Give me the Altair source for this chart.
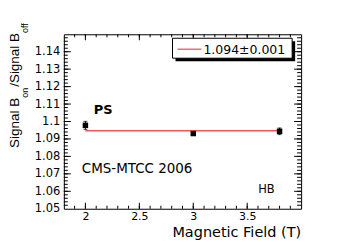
import altair as alt
import pandas as pd

# ---- data ----
field_T = [2.0, 3.0, 3.8]
ratio = [1.0978, 1.0931, 1.0944]
ratio_err = [0.0023, 0.0010, 0.0019]
fit_value = 1.0947
fit_range = [2.0, 3.8]
fit_label = "1.094\u00b10.001"

x_labels = [2.0, 2.5, 3.0, 3.5]
y_labels = [1.05, 1.06, 1.07, 1.08, 1.09, 1.10, 1.11, 1.12, 1.13, 1.14]
x_domain = [1.8, 4.0]
y_domain = [1.05, 1.15]

W, H = 238, 175
FONT = "DejaVu Sans"

pts = pd.DataFrame({"B": field_T, "r": ratio, "e": ratio_err})
pts["lo"] = pts["r"] - pts["e"]
pts["hi"] = pts["r"] + pts["e"]
fit = pd.DataFrame({"B": fit_range, "r": [fit_value, fit_value]})

# axis tick positions (inside ticks, ROOT style)
x_major = [2.0, 2.5, 3.0, 3.5]
x_minor = [round(1.8 + 0.1 * i, 3) for i in range(1, 22)]
y_major = [round(1.05 + 0.01 * i, 4) for i in range(1, 10)]
y_minor = [round(1.05 + 0.002 * i, 4) for i in range(1, 50)]

xs = alt.Scale(domain=x_domain, nice=False, zero=False)
ys = alt.Scale(domain=y_domain, nice=False, zero=False)

axX = alt.Axis(title=None, values=x_labels, format="~g", ticks=False, tickSize=0,
               domain=False, grid=False, labelFont=FONT, labelFontSize=11,
               labelColor="black", labelPadding=2, labelOverlap=False)
axY = alt.Axis(title=None, values=y_labels, format=".2~f", ticks=False, tickSize=0,
               domain=False, grid=False, labelFont=FONT, labelFontSize=11.5,
               labelColor="black", labelPadding=4, labelOverlap=False)

def X(f):
    return alt.X(f, scale=xs, axis=axX)

def Y(f):
    return alt.Y(f, scale=ys, axis=axY)

fitline = alt.Chart(fit).mark_line(color="#f45555", strokeWidth=1.3).encode(
    x=X("B:Q"), y=Y("r:Q"))

err = alt.Chart(pts).mark_rule(color="black", strokeWidth=1).encode(
    x=X("B:Q"), y=Y("lo:Q"), y2="hi:Q")
cap_lo = alt.Chart(pts).mark_tick(orient="horizontal", size=4, thickness=1, color="black").encode(
    x=X("B:Q"), y=Y("lo:Q"))
cap_hi = alt.Chart(pts).mark_tick(orient="horizontal", size=4, thickness=1, color="black").encode(
    x=X("B:Q"), y=Y("hi:Q"))
markers = alt.Chart(pts).mark_square(size=30, color="black", opacity=1).encode(
    x=X("B:Q"), y=Y("r:Q"))

def yticks(vals, L):
    d = pd.DataFrame({"v": vals})
    left = alt.Chart(d).mark_rule(color="black", strokeWidth=1).encode(
        y=Y("v:Q"), x=alt.value(0), x2=alt.value(L))
    right = alt.Chart(d).mark_rule(color="black", strokeWidth=1).encode(
        y=Y("v:Q"), x=alt.value(W), x2=alt.value(W - L))
    return [left, right]

def xticks(vals, L):
    d = pd.DataFrame({"v": vals})
    bot = alt.Chart(d).mark_rule(color="black", strokeWidth=1).encode(
        x=X("v:Q"), y=alt.value(H), y2=alt.value(H - L))
    top = alt.Chart(d).mark_rule(color="black", strokeWidth=1).encode(
        x=X("v:Q"), y=alt.value(0), y2=alt.value(L))
    return [bot, top]

tick_layers = yticks(y_major, 7) + yticks(y_minor, 4) + xticks(x_major, 6) + xticks(x_minor, 3)

def label(text, x, y, size, align="left", weight="normal", angle=0, font=FONT, baseline="alphabetic"):
    return alt.Chart(pd.DataFrame({"t": [text]})).mark_text(
        align=align, baseline=baseline, fontSize=size, fontWeight=weight,
        font=font, color="black", angle=angle).encode(
        text="t:N", x=alt.value(x), y=alt.value(y))

texts = [
    label("PS", 30, 80, 13, weight="bold"),
    label("CMS-MTCC 2006", 18, 139, 13.5),
    label("HB", 195, 159, 11.5),
    label("Magnetic Field (T)", W, 203, 14.5, align="right"),
    # y-axis title with subscripts
    label("Signal B", -44.5, 114, 13.5, angle=270, font="Liberation Sans"),
    label("on", -36, 63.7, 9, angle=270, font="Liberation Sans"),
    label("/Signal B", -44.5, 52.7, 13.5, angle=270, font="Liberation Sans"),
    label("off", -36, -1.3, 9, angle=270, font="Liberation Sans"),
]

# legend box with shadow
one = pd.DataFrame({"a": [0]})
shadow = alt.Chart(one).mark_rect(color="black").encode(
    x=alt.value(112), x2=alt.value(232), y=alt.value(7), y2=alt.value(27))
box = alt.Chart(one).mark_rect(fill="white", stroke="black", strokeWidth=1).encode(
    x=alt.value(109), x2=alt.value(229), y=alt.value(4), y2=alt.value(24))
leg_line = alt.Chart(one).mark_rule(color="#f45555", strokeWidth=1.3).encode(
    x=alt.value(114), x2=alt.value(138), y=alt.value(15))
leg_text = label(fit_label, 140, 19.5, 12.5)

chart = alt.layer(
    fitline, err, cap_lo, cap_hi, markers, *tick_layers,
    shadow, box, leg_line, leg_text, *texts
).properties(
    width=W, height=H,
    autosize=alt.AutoSizeParams(type="none"),
    padding={"left": 56, "top": 26, "right": 40, "bottom": 32},
    background="white",
).configure_view(stroke="black", strokeWidth=1)

chart.save("out.html", embed_options={"renderer": "svg", "actions": False})
